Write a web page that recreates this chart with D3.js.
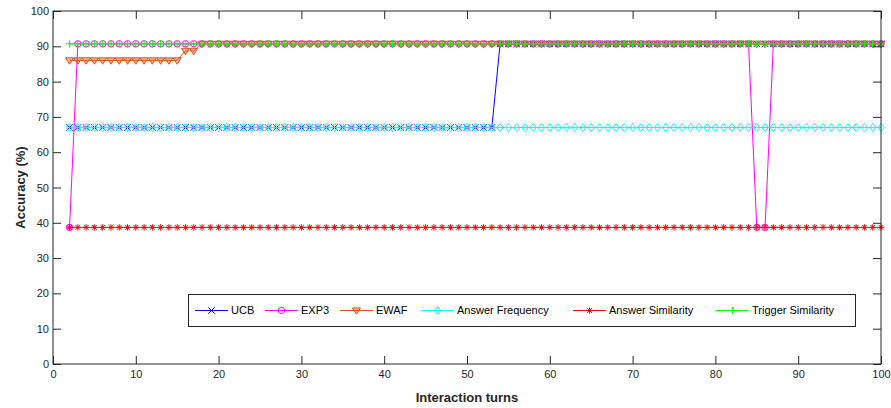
<!DOCTYPE html>
<html>
<head>
<meta charset="utf-8">
<script src="https://cdn.jsdelivr.net/npm/d3@7"></script>
<style>
  body { margin: 0; background: #fff; }
  svg { display: block; font-family: "Liberation Sans", Arial, sans-serif; }
</style>
</head>
<body>
<script>
// interaction turns 2..100
const turns = d3.range(2, 101);

// per-series values
const ucb = turns.map(t => t <= 53 ? 67 : 90.7);
const exp3 = turns.map(t => (t === 2 || t === 85 || t === 86) ? 38.7 : 90.7);
const ewaf = turns.map(t => t <= 15 ? 86 : t <= 17 ? 88.7 : 90.7);
const answerFreq = turns.map(() => 67);
const answerSim = turns.map(() => 38.7);
const triggerSim = turns.map(() => 90.7);

const seriesNames = ["UCB", "EXP3", "EWAF", "Answer Frequency", "Answer Similarity", "Trigger Similarity"];
const seriesValues = [ucb, exp3, ewaf, answerFreq, answerSim, triggerSim];
const seriesColors = ["#0000ff", "#ff00ff", "#d95319", "#00ffff", "#ff0000", "#00ff00"];
const seriesMarkers = ["x", "o", "v", "d", "*", "+"];

const xTicks = d3.range(0, 101, 10);
const yTicks = d3.range(0, 101, 10);

const width = 891, height = 408;
const margin = {top: 11, right: 10, bottom: 44, left: 53};

const x = d3.scaleLinear().domain([0, 100]).range([margin.left, width - margin.right]);
const y = d3.scaleLinear().domain([0, 100]).range([height - margin.bottom, margin.top]);

const svg = d3.select("body").append("svg")
    .attr("width", width)
    .attr("height", height);

const axisColor = "#262626";

function marker(sel, type, color) {
  const s = 3.2;
  if (type === "x") {
    sel.append("path").attr("d", `M${-s},${-s}L${s},${s}M${-s},${s}L${s},${-s}`)
        .attr("stroke", color).attr("fill", "none");
  } else if (type === "o") {
    sel.append("circle").attr("r", s).attr("stroke", color).attr("fill", "none");
  } else if (type === "v") {
    sel.append("path").attr("d", `M${-s - 0.8},${-s + 0.6}L${s + 0.8},${-s + 0.6}L0,${s + 0.6}Z`)
        .attr("stroke", color).attr("fill", color).attr("fill-opacity", 0.4);
  } else if (type === "d") {
    sel.append("path").attr("d", `M0,${-s - 0.8}L${s},0L0,${s + 0.8}L${-s},0Z`)
        .attr("stroke", color).attr("fill", "none");
  } else if (type === "*") {
    const a = s * 0.75;
    sel.append("path").attr("d", `M${-s},0L${s},0M0,${-s}L0,${s}M${-a},${-a}L${a},${a}M${-a},${a}L${a},${-a}`)
        .attr("stroke", color).attr("fill", "none");
  } else if (type === "+") {
    sel.append("path").attr("d", `M${-s - 0.5},0L${s + 0.5},0M0,${-s - 0.5}L0,${s + 0.5}`)
        .attr("stroke", color).attr("fill", "none");
  }
}

const plot = svg.append("g");

const line = d3.line().x((d, i) => x(turns[i])).y(d => y(d));

seriesValues.forEach((vals, k) => {
  const g = plot.append("g");
  g.append("path")
      .attr("d", line(vals))
      .attr("fill", "none")
      .attr("stroke", seriesColors[k])
      .attr("stroke-width", 1);
  g.selectAll("g.m")
    .data(vals)
    .join("g")
      .attr("class", "m")
      .attr("transform", (d, i) => `translate(${x(turns[i])},${y(d)})`)
      .each(function() { marker(d3.select(this), seriesMarkers[k], seriesColors[k]); });
});

// axes, ticks pointing inward on all four sides
const tickLen = 8;
svg.append("g")
    .attr("transform", `translate(0,${y(0)})`)
    .call(d3.axisBottom(x).tickValues(xTicks).tickSize(-tickLen).tickPadding(6))
    .call(g => g.select(".domain").remove());
svg.append("g")
    .attr("transform", `translate(0,${y(100)})`)
    .call(d3.axisTop(x).tickValues(xTicks).tickSize(-tickLen).tickFormat(""))
    .call(g => g.select(".domain").remove());
svg.append("g")
    .attr("transform", `translate(${x(0)},0)`)
    .call(d3.axisLeft(y).tickValues(yTicks).tickSize(-tickLen).tickPadding(4))
    .call(g => g.select(".domain").remove());
svg.append("g")
    .attr("transform", `translate(${x(100)},0)`)
    .call(d3.axisRight(y).tickValues(yTicks).tickSize(-tickLen).tickFormat(""))
    .call(g => g.select(".domain").remove());

svg.selectAll(".tick line").attr("stroke", axisColor);
svg.selectAll(".tick text")
    .attr("fill", axisColor)
    .attr("font-size", 11)
    .attr("font-family", "Liberation Sans, Arial, sans-serif");

svg.append("rect")
    .attr("x", x(0)).attr("y", y(100))
    .attr("width", x(100) - x(0)).attr("height", y(0) - y(100))
    .attr("fill", "none").attr("stroke", axisColor).attr("stroke-width", 1);

// axis labels
svg.append("text")
    .attr("x", (x(0) + x(100)) / 2)
    .attr("y", 402)
    .attr("text-anchor", "middle")
    .attr("font-size", 13)
    .attr("font-weight", "bold")
    .attr("fill", axisColor)
    .text("Interaction turns");

svg.append("text")
    .attr("transform", `translate(25,${(y(0) + y(100)) / 2}) rotate(-90)`)
    .attr("text-anchor", "middle")
    .attr("font-size", 13)
    .attr("font-weight", "bold")
    .attr("fill", axisColor)
    .text("Accuracy (%)");

// legend
const legend = svg.append("g");
legend.append("rect")
    .attr("x", 188.5).attr("y", 294.5)
    .attr("width", 667).attr("height", 32)
    .attr("fill", "#fff").attr("stroke", axisColor);

const legendX = [195, 265, 340, 421, 573, 716];
seriesNames.forEach((name, k) => {
  const g = legend.append("g").attr("transform", `translate(${legendX[k]},310.5)`);
  g.append("line").attr("x1", 0).attr("x2", 33).attr("stroke", seriesColors[k]);
  const m = g.append("g").attr("transform", "translate(16.5,0)");
  marker(m, seriesMarkers[k], seriesColors[k]);
  g.append("text")
      .attr("x", 36)
      .attr("dy", "0.35em")
      .attr("font-size", 11)
      .attr("fill", "#000")
      .text(name);
});
</script>
</body>
</html>
